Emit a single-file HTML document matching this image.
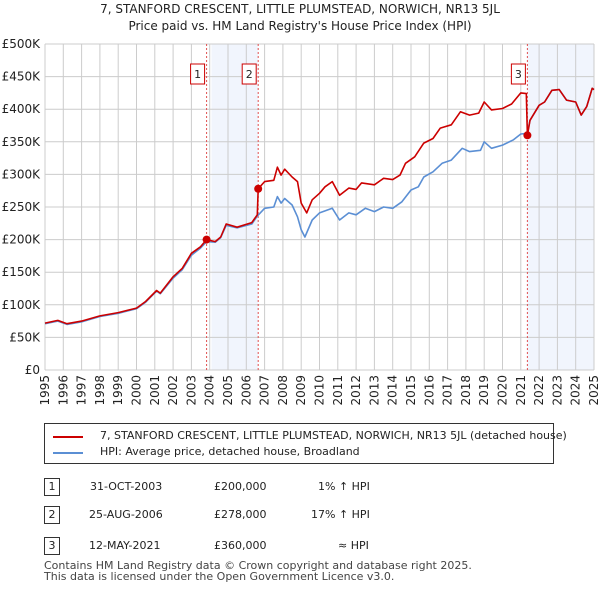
<!DOCTYPE html>
<html><head><meta charset="utf-8"><style>
body{margin:0;background:#fff;font-family:"DejaVu Sans","Liberation Sans",sans-serif;}
#wrap{position:relative;width:600px;height:590px;overflow:hidden;}
.t{position:absolute;font-size:12px;color:#222;white-space:nowrap;}
</style></head><body>
<div id="wrap">
<div class="t" style="left:0;width:600px;text-align:center;top:2px;font-size:12px">7, STANFORD CRESCENT, LITTLE PLUMSTEAD, NORWICH, NR13 5JL</div>
<div class="t" style="left:0;width:600px;text-align:center;top:19px;font-size:12px">Price paid vs. HM Land Registry's House Price Index (HPI)</div>
<svg id="chart" width="600" height="410" style="position:absolute;left:0;top:0"></svg>
<div style="position:absolute;left:44px;top:423px;width:508px;height:39px;border:1px solid #333;">
 <div style="position:absolute;left:8px;top:12px;width:30px;height:2px;background:#cc0000"></div>
 <div class="t" style="left:55px;top:5px;font-size:11px">7, STANFORD CRESCENT, LITTLE PLUMSTEAD, NORWICH, NR13 5JL (detached house)</div>
 <div style="position:absolute;left:8px;top:28px;width:30px;height:2px;background:#5b8fd4"></div>
 <div class="t" style="left:55px;top:21px;font-size:11px">HPI: Average price, detached house, Broadland</div>
</div>
<div>
 <div class="t" style="left:44px;top:478px;width:14px;height:16px;border:1px solid #333;text-align:center;font-size:11px;line-height:16px">1</div>
 <div class="t" style="left:90px;top:480px;font-size:11px">31-OCT-2003</div>
 <div class="t" style="left:214px;top:480px;font-size:11px">£200,000</div>
 <div class="t" style="left:318px;top:480px;font-size:11px">1% ↑ HPI</div>
 <div class="t" style="left:44px;top:506px;width:14px;height:16px;border:1px solid #333;text-align:center;font-size:11px;line-height:16px">2</div>
 <div class="t" style="left:89px;top:508px;font-size:11px">25-AUG-2006</div>
 <div class="t" style="left:214px;top:508px;font-size:11px">£278,000</div>
 <div class="t" style="left:311px;top:508px;font-size:11px">17% ↑ HPI</div>
 <div class="t" style="left:44px;top:537px;width:14px;height:16px;border:1px solid #333;text-align:center;font-size:11px;line-height:16px">3</div>
 <div class="t" style="left:89px;top:539px;font-size:11px">12-MAY-2021</div>
 <div class="t" style="left:214px;top:539px;font-size:11px">£360,000</div>
 <div class="t" style="left:338px;top:539px;font-size:11px">≈ HPI</div>
</div>
<div class="t" style="left:44px;top:559px;font-size:11px;color:#444">Contains HM Land Registry data © Crown copyright and database right 2025.</div>
<div class="t" style="left:44px;top:570px;font-size:11px;color:#444">This data is licensed under the Open Government Licence v3.0.</div>
</div>
<script>
const hpiYears=[1995,1995.7,1996.2,1997,1998,1999,2000,2000.5,2001.1,2001.3,2002,2002.5,2003,2003.5,2003.83,2004.3,2004.6,2004.9,2005.5,2006.3,2006.6,2007,2007.5,2007.7,2007.9,2008.1,2008.5,2008.8,2009.0,2009.2,2009.6,2010,2010.7,2011.1,2011.6,2012,2012.5,2013,2013.5,2014,2014.5,2015,2015.4,2015.7,2016.2,2016.7,2017.2,2017.8,2018.2,2018.8,2019,2019.4,2020,2020.6,2021,2021.36,2021.5,2022,2022.3,2022.7,2023.1,2023.5,2024,2024.3,2024.6,2024.9,2025];
const hpiValues=[71,75,70,74,82,87,94,104,121,117,141,154,176,187,197,196,203,222,218,224,236,248,250,266,256,263,253,235,215,204,230,241,248,230,241,238,248,243,250,248,258,276,281,296,304,317,322,340,335,337,350,340,345,353,362,363,383,406,411,429,430,414,411,391,404,432,430];
const priceYears=[1995,1995.7,1996.2,1997,1998,1999,2000,2000.5,2001.1,2001.3,2002,2002.5,2003,2003.5,2003.83,2004.3,2004.6,2004.9,2005.5,2006.3,2006.6,2006.65,2007,2007.5,2007.7,2007.9,2008.1,2008.5,2008.8,2009.0,2009.3,2009.6,2010,2010.3,2010.7,2011.1,2011.6,2012,2012.3,2013,2013.5,2014,2014.4,2014.7,2015.2,2015.7,2016.2,2016.6,2017.2,2017.7,2018.2,2018.7,2019,2019.4,2020,2020.5,2021,2021.3,2021.36,2021.5,2022,2022.3,2022.7,2023.1,2023.5,2024,2024.3,2024.6,2024.9,2025];
const priceValues=[72,76,71,75,83,88,95,105,122,118,143,156,179,189,200,197,204,224,219,226,238,278,289,291,311,299,308,296,289,256,241,261,271,281,289,268,279,277,287,284,294,292,299,317,327,348,355,371,376,396,391,394,411,399,401,408,425,424,360,383,406,411,429,430,414,411,391,404,432,430];
const saleYears=[2003.83,2006.65,2021.36];
const saleValues=[200,278,360];
const saleLabels=["1","2","3"];
const yTicks=[0,50,100,150,200,250,300,350,400,450,500];
const yTickLabels=["£0","£50K","£100K","£150K","£200K","£250K","£300K","£350K","£400K","£450K","£500K"];
const xTicks=[1995,1996,1997,1998,1999,2000,2001,2002,2003,2004,2005,2006,2007,2008,2009,2010,2011,2012,2013,2014,2015,2016,2017,2018,2019,2020,2021,2022,2023,2024,2025];

const svg=document.getElementById('chart');const NS='http://www.w3.org/2000/svg';
const FF='DejaVu Sans, Liberation Sans, sans-serif';
const X0=45,X1=594,Y0=370,Y1=44;
const xs=y=>X0+(y-1995)/30*(X1-X0);
const ys=v=>Y0-v/500*(Y0-Y1);
function mk(t,a,p){const e=document.createElementNS(NS,t);for(const k in a)e.setAttribute(k,a[k]);(p||svg).appendChild(e);return e;}
let r=mk('rect',{x:xs(2004.1),y:Y1,width:xs(saleYears[1])-xs(2004.1),height:Y0-Y1,fill:'#eef3fc',opacity:0.8});

r=mk('rect',{x:xs(saleYears[2]),y:Y1,width:xs(2025)-xs(saleYears[2]),height:Y0-Y1,fill:'#eef3fc',opacity:0.8});

yTicks.forEach((v,i)=>{const l=mk('line',{x1:X0,x2:X1,y1:ys(v),y2:ys(v),stroke:'#ccc','stroke-width':1});

const t=mk('text',{x:40,y:ys(v)+4,'text-anchor':'end','font-size':12,fill:'#222','font-family':FF});t.textContent=yTickLabels[i];
});
xTicks.forEach(y=>{const l=mk('line',{x1:xs(y),x2:xs(y),y1:Y1,y2:Y0,stroke:'#ccc','stroke-width':1});

const t=mk('text',{x:0,y:0,'text-anchor':'end','font-size':12,fill:'#222','font-family':FF,transform:`translate(${xs(y)+4},375) rotate(-90)`});t.textContent=y;
});
saleYears.forEach((y,i)=>{const l=mk('line',{x1:xs(y),x2:xs(y),y1:Y1,y2:Y0,stroke:'#e05050','stroke-width':1,'stroke-dasharray':'2,2'});
});
function path(xa,va,c,name){const d=xa.map((y,i)=>(i?'L':'M')+xs(y).toFixed(1)+','+ys(va[i]).toFixed(1)).join('');
const p=mk('path',{d:d,fill:'none',stroke:c,'stroke-width':1.6,'stroke-linejoin':'round'});}
path(hpiYears,hpiValues,'#5b8fd4','hpi-line');
path(priceYears,priceValues,'#cc0000','price-line');
saleYears.forEach((y,i)=>{const c=mk('circle',{cx:xs(y),cy:ys(saleValues[i]),r:4,fill:'#cc0000'});

const bx=xs(y)-16;const b=mk('rect',{x:bx,y:64,width:14,height:20,fill:'#fff',stroke:'#cc0000','stroke-width':1});

const t=mk('text',{x:bx+7,y:78,'text-anchor':'middle','font-size':11,fill:'#222','font-family':FF});t.textContent=saleLabels[i];
});
</script>
</body></html>
